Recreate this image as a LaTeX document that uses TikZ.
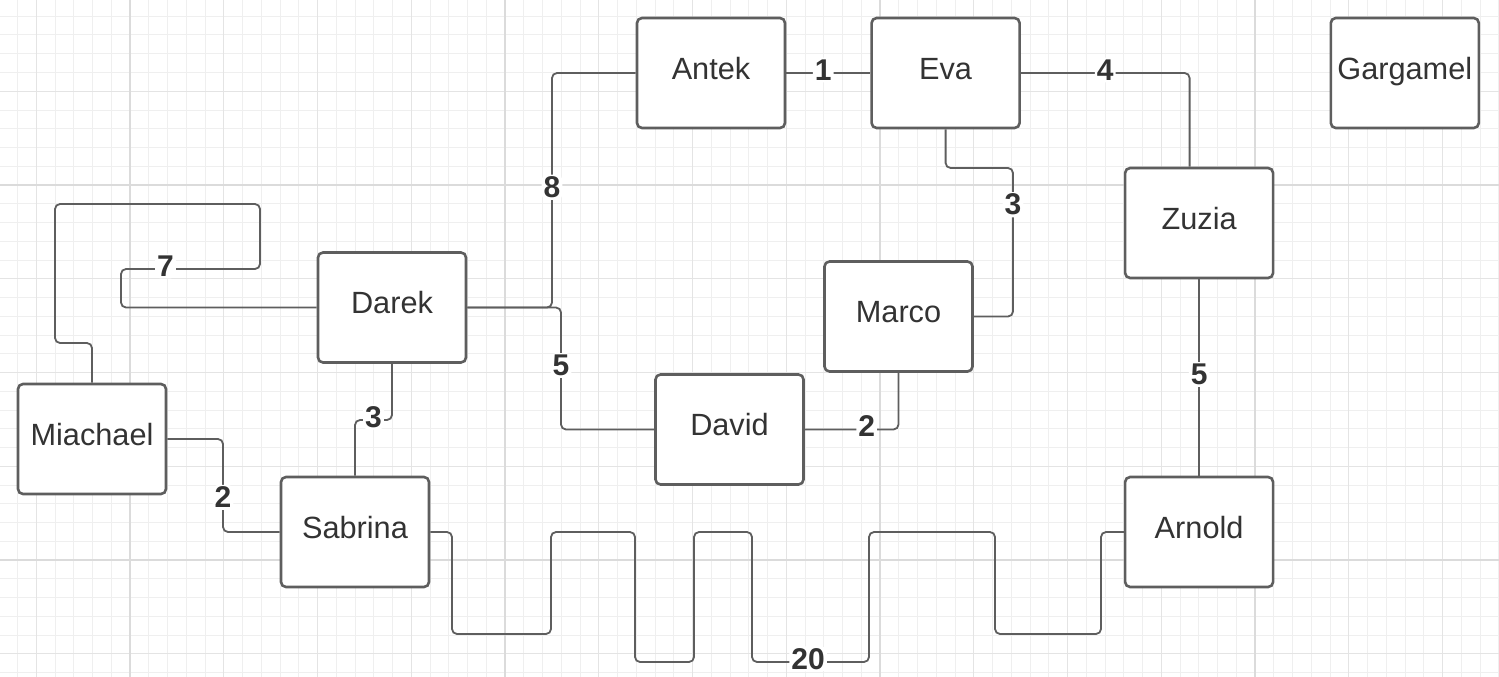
\documentclass[tikz,border=0pt]{standalone}
\usepackage{fontspec}
\setmainfont{Liberation Sans}
\usepackage{tikz}
\usetikzlibrary{positioning}

\definecolor{boxgray}{HTML}{5E5E5E}
\definecolor{txtgray}{HTML}{333333}
\definecolor{minorgrid}{HTML}{EFEFEF}
\definecolor{midgrid}{HTML}{E4E4E4}
\definecolor{majorgrid}{HTML}{DBDBDB}

\newcommand*{\namefont}{\fontsize{30.7}{36}\selectfont}
\newcommand*{\weightfont}{\fontsize{30}{36}\selectfont\bfseries}

\tikzset{
  person/.style={draw=boxgray, line width=2.6pt, rounded corners=5pt, fill=white,
    minimum width=148pt, minimum height=110pt, inner sep=0pt,
    text=txtgray, font=\namefont, text height=21.5pt, text depth=9.2pt},
  link/.style={draw=boxgray, line width=1.8pt, rounded corners=5pt},
  weight/.style={fill=white, text=txtgray, font=\weightfont,
    inner xsep=2pt, inner ysep=2pt, yshift=3pt},
}

\begin{document}
\begin{tikzpicture}[x=1pt, y=-1pt]

  \useasboundingbox (0,0) rectangle (1499,677);
  \fill[white] (0,0) rectangle (1499,677);

  % Grid
  \foreach \k in {-6,...,73} \draw[minorgrid, line width=1pt] ({130+18.75*\k},0) -- ({130+18.75*\k},677);
  \foreach \k in {-9,...,26} \draw[minorgrid, line width=1pt] (0,{185+18.75*\k}) -- (1499,{185+18.75*\k});
  \foreach \k in {-5,0,...,70} \draw[midgrid, line width=1.2pt] ({130+18.75*\k},0) -- ({130+18.75*\k},677);
  \foreach \k in {-5,0,...,25} \draw[midgrid, line width=1.2pt] (0,{185+18.75*\k}) -- (1499,{185+18.75*\k});
  \foreach \k in {0,20,40,60} \draw[majorgrid, line width=1.6pt] ({130+18.75*\k},0) -- ({130+18.75*\k},677);
  \foreach \k in {0,20} \draw[majorgrid, line width=1.6pt] (0,{185+18.75*\k}) -- (1499,{185+18.75*\k});

  % Define nodes
  \node[person]                                 (antek)    at (711,73)      {Antek};
  \node[person, right=84pt of antek]            (eva)                       {Eva};
  \node[person, right=308.6pt of eva]           (gargamel)                  {Gargamel};
  \node[person, below=37.4pt of eva, xshift=253.5pt] (zuzia)                {Zuzia};
  \node[person, below=196.4pt of zuzia]         (arnold)                    {Arnold};
  \node[person]                                 (marco)    at (898.5,316.5) {Marco};
  \node[person]                                 (david)    at (729.5,429.5) {David};
  \node[person]                                 (darek)    at (392,307.5)   {Darek};
  \node[person, below=111.9pt of darek, xshift=-37pt] (sabrina)             {Sabrina};
  \node[person]                                 (miachael) at (92,439)      {Miachael};

  % Connect the nodes
  \draw[link] (antek) -- node[weight, pos=0.44] {1} (eva);
  \draw[link] (eva.east) -| node[weight, pos=0.25] {4} ([xshift=-9.5pt]zuzia.north);
  \draw[link] (antek.west) -- (552,73) -- node[weight, pos=0.5] {8} (552,307.5) -- (darek.east);
  \draw[link] (eva.south) -- (945.6,168) -- (1013,168) -- node[weight, pos=0.267] {3} (1013,316.5) -- (marco.east);
  \draw[link] (zuzia) -- node[weight, pos=0.5] {5} (arnold);
  \draw[link] (darek.east) -- (561,307.5) -- node[weight, pos=0.5] {5} (561,429.5) -- (david.west);
  \draw[link] (marco.south) -- (898.5,429.5) -- node[weight, pos=0.34] {2} (david.east);
  \draw[link] (darek.south) -- (392,420) -- node[weight] {3} (355,420) -- (sabrina.north);
  \draw[link] (miachael.east) -- (223,439) -- node[weight, pos=0.66] {2} (223,532) -- (sabrina.west);
  \draw[link] (darek.west) -- (121,307.5) -- (121,269) -- node[weight, pos=0.32] {7} (260,269)
    -- (260,204) -- (55,204) -- (55,343) -- (92,343) -- (miachael.north);
  \draw[link] (sabrina.east) -- (452,532) -- (452,634) -- (551,634) -- (551,532)
    -- (635,532) -- (635,662) -- (694,662) -- (694,532) -- (752,532) -- (752,662)
    -- node[weight, pos=0.48] {20} (869,662) -- (869,532) -- (995,532) -- (995,634)
    -- (1101,634) -- (1101,532) -- (arnold.west);

\end{tikzpicture}
\end{document}
